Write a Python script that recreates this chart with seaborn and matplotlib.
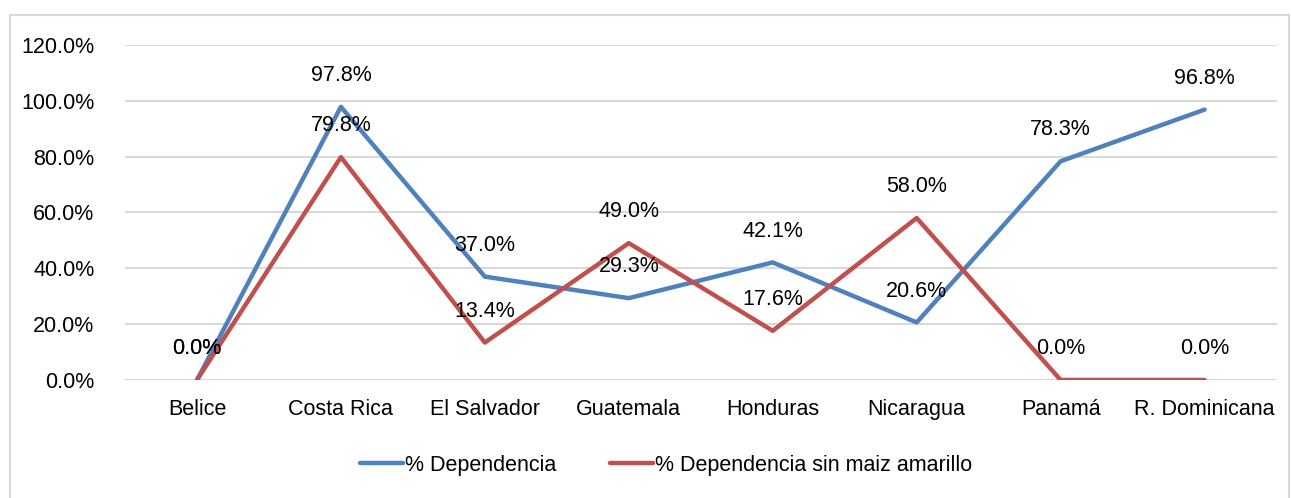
import matplotlib.pyplot as plt
import matplotlib.patches as mpatches
import matplotlib.ticker as mticker
import seaborn as sns
import pandas as pd

paises = ['Belice', 'Costa Rica', 'El Salvador', 'Guatemala', 'Honduras',
          'Nicaragua', 'Panamá', 'R. Dominicana']
dependencia = [0.0, 97.8, 37.0, 29.3, 42.1, 20.6, 78.3, 96.8]
dependencia_sin_maiz = [0.0, 79.8, 13.4, 49.0, 17.6, 58.0, 0.0, 0.0]
series = ['% Dependencia', '% Dependencia sin maiz amarillo']
colores = ['#4F81BD', '#C0504D']

sns.set_theme(style="white")
plt.rcParams['font.family'] = ['Liberation Sans Narrow', 'Liberation Sans', 'DejaVu Sans']
plt.rcParams['text.color'] = 'black'

df = pd.DataFrame({
    'pais': paises * 2,
    'valor': dependencia + dependencia_sin_maiz,
    'serie': [series[0]] * len(paises) + [series[1]] * len(paises),
})
df['x'] = df['pais'].map({p: i for i, p in enumerate(paises)})

fig = plt.figure(figsize=(12.91, 4.98), dpi=100)
ax = fig.add_axes([0.0968, 0.237, 0.892, 0.673])

# marco gris alrededor del grafico
fig.patches.append(mpatches.Rectangle((10 / 1291, -0.01), 1279 / 1291, 1 - 15 / 498 + 0.01,
                                      transform=fig.transFigure, fill=False,
                                      edgecolor='#D9D9D9', linewidth=1.5, zorder=0))

sns.lineplot(data=df, x='x', y='valor', hue='serie', palette=colores,
             linewidth=3.2, ax=ax, legend=True, solid_capstyle='round')

for vals in [dependencia, dependencia_sin_maiz]:
    for i, v in enumerate(vals):
        ax.annotate(f'{v:.1f}%', (i, v), xytext=(0, 15), textcoords='offset points',
                    ha='center', va='bottom', fontsize=15.5, color='black')

ax.set_xlim(-0.5, len(paises) - 0.5)
ax.set_ylim(0, 120)
ax.set_yticks(range(0, 121, 20))
ax.yaxis.set_major_formatter(mticker.FuncFormatter(lambda v, p: f'{v:.1f}%'))
ax.set_xticks(range(len(paises)))
ax.set_xticklabels(paises)
ax.tick_params(axis='both', labelsize=15.5, length=0, colors='black')
ax.tick_params(axis='x', pad=14)
ax.tick_params(axis='y', pad=22)
ax.grid(axis='y', color='#D9D9D9', linewidth=1.5)
ax.set_axisbelow(True)
for s in ax.spines.values():
    s.set_visible(False)
ax.set_xlabel('')
ax.set_ylabel('')

handles, labels = ax.get_legend_handles_labels()
leg = ax.legend(handles, labels, loc='center', bbox_to_anchor=(0.47, -0.255), ncol=2,
                frameon=False, fontsize=15.5, handlelength=2.0, handletextpad=0.1,
                columnspacing=2.5)
for t in leg.get_texts():
    t.set_color('black')

fig.savefig('out.png', dpi=100)
